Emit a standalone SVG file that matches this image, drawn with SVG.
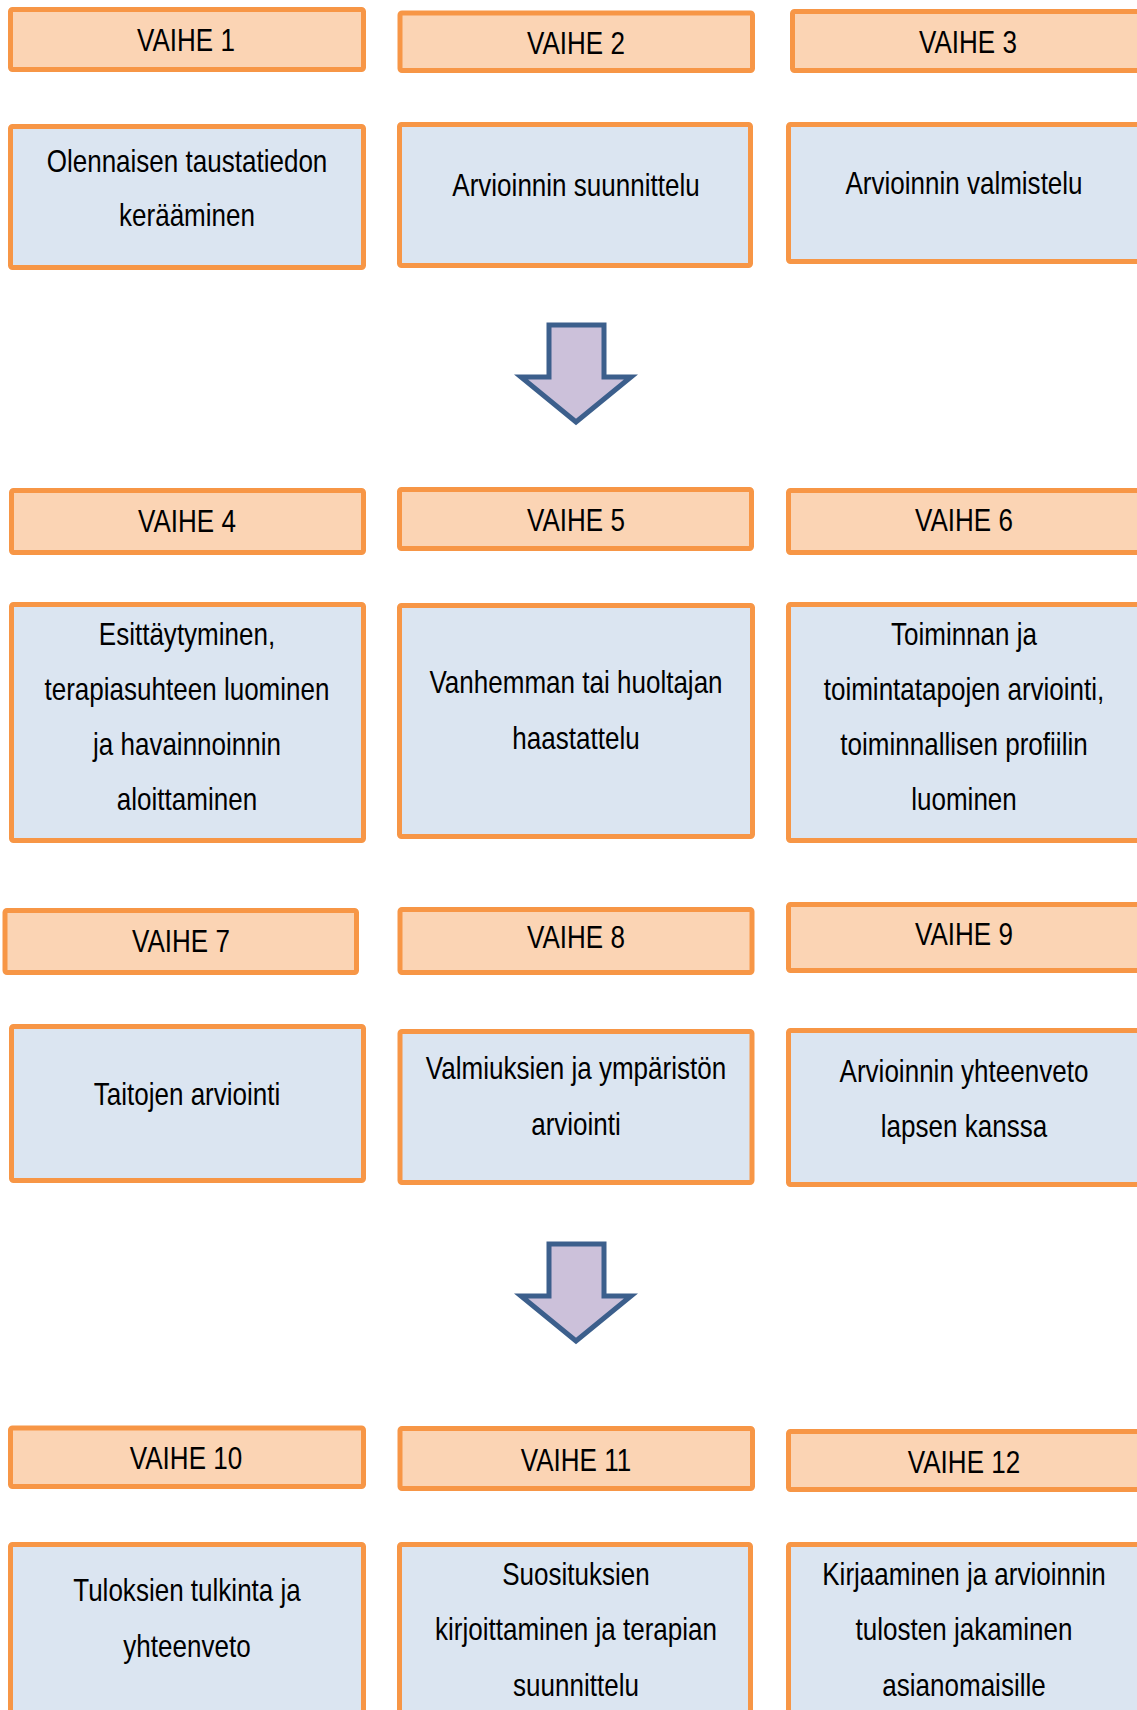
<svg xmlns="http://www.w3.org/2000/svg" width="1137" height="1710" viewBox="0 0 1137 1710">
<style>
.h{fill:#FBD4B4;stroke:#F79646;stroke-width:5}
.d{fill:#DBE5F1;stroke:#F79646;stroke-width:5}
.t{font-family:"Liberation Sans",Arial,sans-serif;font-size:31px;fill:#000;text-anchor:middle}
.ar{fill:#CCC1DA;stroke:#3C5F8C;stroke-width:5;stroke-linejoin:miter}
</style>
<rect width="1137" height="1710" fill="#fff"/>
<g id="vaihe1"><rect class="h" x="10.5" y="9.5" width="353" height="60" rx="2"/><text class="t" transform="translate(186,51) scale(0.84,1)">VAIHE 1</text></g>
<g id="kuvaus1"><rect class="d" x="10.5" y="126.5" width="353" height="141" rx="2"/><text class="t" transform="translate(187,172) scale(0.84,1)"><tspan x="0" y="0">Olennaisen taustatiedon</tspan><tspan x="0" y="54">kerääminen</tspan></text></g>
<g id="vaihe2"><rect class="h" x="400" y="13" width="352.5" height="57.5" rx="2"/><text class="t" transform="translate(576,54) scale(0.84,1)">VAIHE 2</text></g>
<g id="kuvaus2"><rect class="d" x="399.5" y="124.5" width="351" height="141" rx="2"/><text class="t" transform="translate(576,196) scale(0.84,1)">Arvioinnin suunnittelu</text></g>
<g id="vaihe3"><rect class="h" x="792.5" y="11.5" width="360" height="59" rx="2"/><text class="t" transform="translate(968,53) scale(0.84,1)">VAIHE 3</text></g>
<g id="kuvaus3"><rect class="d" x="788.5" y="124.5" width="360" height="137" rx="2"/><text class="t" transform="translate(964,194) scale(0.84,1)">Arvioinnin valmistelu</text></g>

<g id="vaihe4"><rect class="h" x="11.5" y="490.5" width="352" height="62" rx="2"/><text class="t" transform="translate(187,532) scale(0.84,1)">VAIHE 4</text></g>
<g id="kuvaus4"><rect class="d" x="11.5" y="604.5" width="352" height="236" rx="2"/><text class="t" transform="translate(187,645) scale(0.84,1)"><tspan x="0" y="0">Esittäytyminen,</tspan><tspan x="0" y="55">terapiasuhteen luominen</tspan><tspan x="0" y="110">ja havainnoinnin</tspan><tspan x="0" y="165">aloittaminen</tspan></text></g>
<g id="vaihe5"><rect class="h" x="399.5" y="489.5" width="352" height="59" rx="2"/><text class="t" transform="translate(576,531) scale(0.84,1)">VAIHE 5</text></g>
<g id="kuvaus5"><rect class="d" x="399.5" y="605.5" width="353" height="231" rx="2"/><text class="t" transform="translate(576,693) scale(0.84,1)"><tspan x="0" y="0">Vanhemman tai huoltajan</tspan><tspan x="0" y="56">haastattelu</tspan></text></g>
<g id="vaihe6"><rect class="h" x="788.5" y="490.5" width="360" height="62" rx="2"/><text class="t" transform="translate(964,531) scale(0.84,1)">VAIHE 6</text></g>
<g id="kuvaus6"><rect class="d" x="788.5" y="604.5" width="360" height="236" rx="2"/><text class="t" transform="translate(964,645) scale(0.84,1)"><tspan x="0" y="0">Toiminnan ja</tspan><tspan x="0" y="55">toimintatapojen arviointi,</tspan><tspan x="0" y="110">toiminnallisen profiilin</tspan><tspan x="0" y="165">luominen</tspan></text></g>

<g id="vaihe7"><rect class="h" x="5" y="910.5" width="351.5" height="62" rx="2"/><text class="t" transform="translate(181,952) scale(0.84,1)">VAIHE 7</text></g>
<g id="kuvaus7"><rect class="d" x="11.5" y="1026.5" width="352" height="154" rx="2"/><text class="t" transform="translate(187,1105) scale(0.84,1)">Taitojen arviointi</text></g>
<g id="vaihe8"><rect class="h" x="400" y="909.5" width="352" height="63" rx="2"/><text class="t" transform="translate(576,948) scale(0.84,1)">VAIHE 8</text></g>
<g id="kuvaus8"><rect class="d" x="400" y="1031.5" width="352" height="151" rx="2"/><text class="t" transform="translate(576,1079) scale(0.84,1)"><tspan x="0" y="0">Valmiuksien ja ympäristön</tspan><tspan x="0" y="56">arviointi</tspan></text></g>
<g id="vaihe9"><rect class="h" x="788.5" y="904.5" width="360" height="66" rx="2"/><text class="t" transform="translate(964,945) scale(0.84,1)">VAIHE 9</text></g>
<g id="kuvaus9"><rect class="d" x="788.5" y="1030.5" width="360" height="154" rx="2"/><text class="t" transform="translate(964,1082) scale(0.84,1)"><tspan x="0" y="0">Arvioinnin yhteenveto</tspan><tspan x="0" y="55">lapsen kanssa</tspan></text></g>

<g id="vaihe10"><rect class="h" x="10.5" y="1428" width="353" height="58.5" rx="2"/><text class="t" transform="translate(186,1469) scale(0.84,1)">VAIHE 10</text></g>
<g id="kuvaus10"><rect class="d" x="10.5" y="1544.5" width="353" height="200" rx="2"/><text class="t" transform="translate(187,1601) scale(0.84,1)"><tspan x="0" y="0">Tuloksien tulkinta ja</tspan><tspan x="0" y="56">yhteenveto</tspan></text></g>
<g id="vaihe11"><rect class="h" x="400" y="1428.5" width="352.5" height="60" rx="2"/><text class="t" transform="translate(576,1471) scale(0.84,1)">VAIHE 11</text></g>
<g id="kuvaus11"><rect class="d" x="399.5" y="1544.5" width="351" height="200" rx="2"/><text class="t" transform="translate(576,1585) scale(0.84,1)"><tspan x="0" y="0">Suosituksien</tspan><tspan x="0" y="55.5">kirjoittaminen ja terapian</tspan><tspan x="0" y="111">suunnittelu</tspan></text></g>
<g id="vaihe12"><rect class="h" x="788.5" y="1431.5" width="360" height="58" rx="2"/><text class="t" transform="translate(964,1473) scale(0.84,1)">VAIHE 12</text></g>
<g id="kuvaus12"><rect class="d" x="788.5" y="1544.5" width="360" height="200" rx="2"/><text class="t" transform="translate(964,1585) scale(0.84,1)"><tspan x="0" y="0">Kirjaaminen ja arvioinnin</tspan><tspan x="0" y="55.5">tulosten jakaminen</tspan><tspan x="0" y="111">asianomaisille</tspan></text></g>

<g id="connectors">
<polygon class="ar" points="549,325 604,325 604,377 631,377 576,422 521,377 549,377"/>
<polygon class="ar" points="549,1244 604,1244 604,1296 631,1296 576,1341 521,1296 549,1296"/>
</g>
</svg>
